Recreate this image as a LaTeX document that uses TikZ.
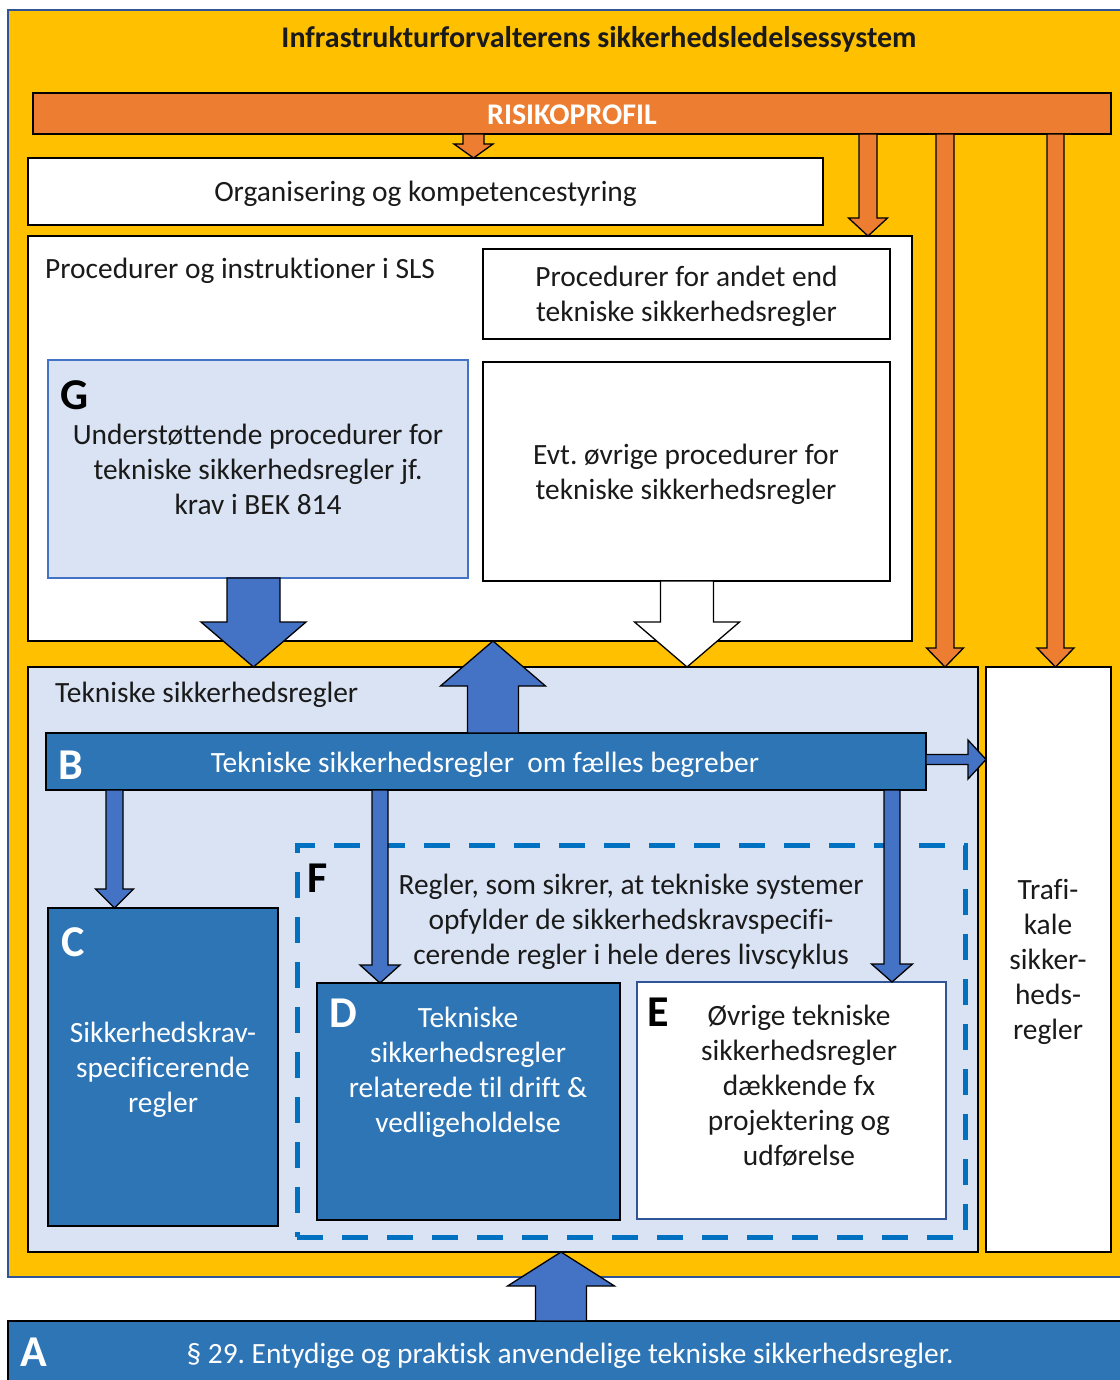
\documentclass[tikz,border=0pt]{standalone}
\usepackage{fontspec}
\setmainfont{Carlito}[Ligatures=NoCommon]
\usetikzlibrary{calc}
\frenchspacing
\definecolor{yel}{HTML}{FFC000}
\definecolor{org}{HTML}{ED7D31}
\definecolor{arrb}{HTML}{4472C4}
\definecolor{darkb}{HTML}{2E75B6}
\definecolor{lightb}{HTML}{DAE3F3}
\definecolor{dashb}{HTML}{0070C0}
\definecolor{frameb}{HTML}{2F5597}
\definecolor{txt}{HTML}{1A1A1A}
\newcommand\rbox[6]{\node[box,#6,minimum width={(#4-#2)*1pt},minimum height={(#5-#3)*1pt}] (#1) at (#2,#3) {};}
\newcommand\varr[6]{\draw[blk,fill=#6] let \p1=#1, \p2=#2, \n1={\y2+sign(\y1-\y2)*#3pt} in
 ({\x2-#4pt},\y1) -- ({\x2-#4pt},\n1) -- ({\x2-#5pt},\n1) -- (\x2,\y2) -- ({\x2+#5pt},\n1) -- ({\x2+#4pt},\n1) -- ({\x2+#4pt},\y1) -- cycle;}
\newcommand\harr[6]{\draw[blk,fill=#6] let \p1=#1, \p2=#2, \n1={\x2+sign(\x1-\x2)*#3pt} in
 (\x1,{\y2-#4pt}) -- (\n1,{\y2-#4pt}) -- (\n1,{\y2-#5pt}) -- (\x2,\y2) -- (\n1,{\y2+#5pt}) -- (\n1,{\y2+#4pt}) -- (\x1,{\y2+#4pt}) -- cycle;}
\begin{document}
\begin{tikzpicture}[x=1pt,y=-1pt,
  box/.style={draw=black,line width=1.8pt,anchor=north west,inner sep=0pt,outer sep=0pt},
  blk/.style={draw=black,line width=1.3pt,line join=miter},
  tx/.style={font=\fontsize{29.4}{35}\selectfont,text=txt,align=center,inner sep=0pt,yshift=-2.5pt},
  wtx/.style={tx,text=white},
  hd/.style={font=\fontsize{30}{32}\selectfont\bfseries,inner sep=0pt,yshift=-1pt},
  letter/.style={font=\fontsize{44}{44}\selectfont\bfseries,anchor=base west,inner sep=0pt}]
\useasboundingbox (0,0) rectangle (1119,1380);
\fill[white] (0,0) rectangle (1119,1380);
% frames
\rbox{frame}{8}{10}{1135}{1277}{fill=yel,draw=frameb,line width=1.5pt}
\node[hd,text=txt] (title) at (599,38) {Infrastrukturforvalterens sikkerhedsledelsessystem};
\rbox{risk}{33}{93}{1111}{134}{fill=org}
\node[hd,text=white] (risktext) at (risk.center) {RISIKOPROFIL};
\rbox{orgk}{28}{158}{823}{225}{fill=white}
\node[tx] (orgtext) at (orgk.center) {Organisering og kompetencestyring};
\rbox{proc}{28}{236}{912}{641}{fill=white}
\node[tx,anchor=base west] (proctext) at (45,276) {Procedurer og instruktioner i SLS};
\rbox{pand}{483}{249}{890}{339}{fill=white}
\node[tx] (pandtext) at (pand.center) {\strut Procedurer for andet end\\\strut tekniske sikkerhedsregler};
\rbox{evt}{483}{362}{890}{581}{fill=white}
\node[tx] (evttext) at (686,472) {\strut Evt. øvrige procedurer for\\\strut tekniske sikkerhedsregler};
\rbox{G}{48}{360}{468}{578}{fill=lightb,draw=arrb,line width=1.6pt}
\node[letter] (Gl) at (60,409) {G};
\node[tx] (Gtext) at (258,470) {\strut Understøttende procedurer for\\\strut tekniske sikkerhedsregler jf.\\\strut krav i BEK 814};
\rbox{tek}{28}{667}{978}{1252}{fill=lightb}
\node[tx,anchor=base west] (tektext) at (55,700) {Tekniske sikkerhedsregler};
\rbox{traf}{986}{667}{1111}{1252}{fill=white}
\node[tx] (traftext) at (1048,960) {\strut Trafi-\\\strut kale\\\strut sikker-\\\strut heds-\\\strut regler};
\rbox{B}{46}{733}{926}{790}{fill=darkb}
\node[letter,text=white] (Bl) at (58,779) {B};
\node[wtx] (Btext) at (485,762) {Tekniske sikkerhedsregler\ \ om fælles begreber};
\rbox{F}{297}{845}{965}{1237}{draw=dashb,line width=5pt,dash pattern=on 26pt off 19pt}
\node[letter] (Fl) at (307,892) {F};
\node[tx] (Ftext) at (631,920) {\strut Regler, som sikrer, at tekniske systemer\\\strut opfylder de sikkerhedskravspecifi-\\\strut cerende regler i hele deres livscyklus};
\rbox{C}{48}{908}{278}{1226}{fill=darkb}
\node[letter,text=white] (Cl) at (61,956) {C};
\node[wtx] (Ctext) at (163,1068) {\strut Sikkerhedskrav-\\\strut specificerende\\\strut regler};
\rbox{D}{317}{983}{620}{1220}{fill=darkb}
\node[letter,text=white] (Dl) at (329,1027) {D};
\node[wtx] (Dtext) at (468,1070) {\strut Tekniske\\\strut sikkerhedsregler\\\strut relaterede til drift \&\\\strut vedligeholdelse};
\rbox{E}{637}{982}{946}{1219}{fill=white,draw=frameb,line width=1.6pt}
\node[letter] (El) at (647,1026) {E};
\node[tx] (Etext) at (799,1086) {\strut Øvrige tekniske\\\strut sikkerhedsregler\\\strut dækkende fx\\\strut projektering og\\\strut udførelse};
\rbox{A}{8}{1321}{1135}{1390}{fill=darkb}
\node[letter,text=white] (Al) at (20,1366) {A};
\node[wtx] (Atext) at (570,1353) {§ 29. Entydige og praktisk anvendelige tekniske sikkerhedsregler.};
% orange arrows
\varr{(473.5,0 |- risk.south)}{(473.5,0 |- orgk.north)}{14}{10.5}{19.5}{org}
\varr{(868,0 |- risk.south)}{(868,0 |- proc.north)}{18}{9}{19.5}{org}
\varr{(945,0 |- risk.south)}{(945,0 |- tek.north)}{19}{9}{18.5}{org}
\varr{(1055.5,0 |- risk.south)}{(1055.5,0 |- traf.north)}{19}{8.5}{18.5}{org}
% blue arrows
\varr{(253.5,0 |- G.south)}{(253.5,0 |- tek.north)}{45}{26.5}{52.5}{arrb}
\varr{(687,0 |- evt.south)}{(687,0 |- tek.north)}{45}{26.5}{52.5}{white}
\varr{(493,0 |- B.north)}{(493,0 |- proc.south)}{45}{25.5}{52.5}{arrb}
\varr{(114.5,0 |- B.south)}{(114.5,0 |- C.north)}{19}{8.5}{19}{arrb}
\varr{(380,0 |- B.south)}{(380,0 |- D.north)}{18}{8}{20}{arrb}
\varr{(892,0 |- B.south)}{(892,0 |- E.north)}{18}{8}{20.5}{arrb}
\varr{(561,0 |- A.north)}{(561,0 |- tek.south)}{34}{25.5}{53.5}{arrb}
\harr{(B.east |- 0,759.5)}{(traf.west |- 0,759.5)}{18}{5}{19.5}{arrb}
\end{tikzpicture}
\end{document}
